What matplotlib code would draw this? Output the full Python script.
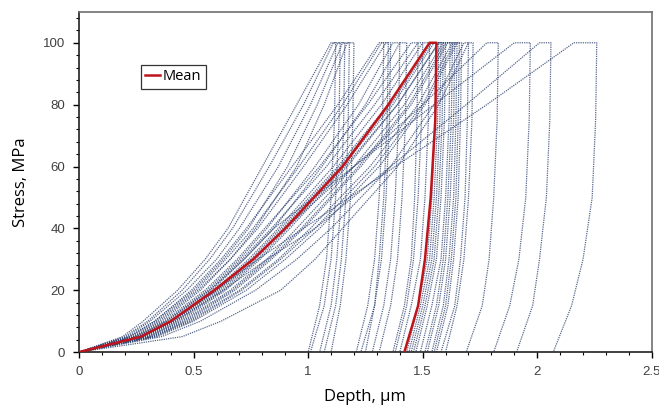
import matplotlib.pyplot as plt
import numpy as np
from matplotlib.ticker import MultipleLocator

# stress levels (MPa) at which depths were read
stress_load = [0, 5, 10, 20, 30, 40, 60, 80, 100]
stress_unload = [100, 75, 50, 30, 15, 0]

# loading depths (um) per test, one row per curve
load_depths = [
    [0, 0.19, 0.28, 0.43, 0.55, 0.65, 0.80, 0.95, 1.10],
    [0, 0.20, 0.30, 0.45, 0.57, 0.67, 0.83, 0.98, 1.11],
    [0, 0.21, 0.31, 0.47, 0.60, 0.70, 0.87, 1.01, 1.13],
    [0, 0.22, 0.33, 0.50, 0.63, 0.74, 0.91, 1.04, 1.15],
    [0, 0.24, 0.35, 0.52, 0.66, 0.77, 0.95, 1.07, 1.17],
    [0, 0.22, 0.33, 0.49, 0.62, 0.73, 0.93, 1.13, 1.31],
    [0, 0.23, 0.34, 0.51, 0.64, 0.76, 0.96, 1.15, 1.32],
    [0, 0.24, 0.36, 0.53, 0.66, 0.78, 0.98, 1.17, 1.34],
    [0, 0.26, 0.38, 0.56, 0.70, 0.82, 1.03, 1.22, 1.37],
    [0, 0.27, 0.40, 0.58, 0.72, 0.85, 1.06, 1.25, 1.40],
    [0, 0.25, 0.37, 0.55, 0.69, 0.81, 1.05, 1.26, 1.45],
    [0, 0.26, 0.39, 0.57, 0.71, 0.84, 1.08, 1.29, 1.48],
    [0, 0.27, 0.40, 0.59, 0.74, 0.87, 1.11, 1.32, 1.50],
    [0, 0.28, 0.41, 0.60, 0.75, 0.88, 1.13, 1.35, 1.53],
    [0, 0.28, 0.41, 0.61, 0.76, 0.89, 1.14, 1.36, 1.54],
    [0, 0.28, 0.42, 0.62, 0.77, 0.90, 1.15, 1.37, 1.55],
    [0, 0.29, 0.43, 0.63, 0.78, 0.91, 1.16, 1.39, 1.57],
    [0, 0.30, 0.44, 0.64, 0.79, 0.92, 1.17, 1.39, 1.57],
    [0, 0.30, 0.45, 0.66, 0.82, 0.95, 1.20, 1.42, 1.59],
    [0, 0.31, 0.46, 0.67, 0.83, 0.97, 1.22, 1.44, 1.60],
    [0, 0.32, 0.47, 0.68, 0.84, 0.98, 1.23, 1.45, 1.61],
    [0, 0.32, 0.48, 0.70, 0.87, 1.01, 1.27, 1.48, 1.63],
    [0, 0.33, 0.49, 0.71, 0.88, 1.03, 1.29, 1.50, 1.64],
    [0, 0.34, 0.50, 0.73, 0.90, 1.05, 1.31, 1.51, 1.65],
    [0, 0.36, 0.53, 0.77, 0.95, 1.10, 1.36, 1.55, 1.68],
    [0, 0.45, 0.62, 0.88, 1.03, 1.15, 1.39, 1.57, 1.70],
    [0, 0.27, 0.40, 0.60, 0.76, 0.90, 1.20, 1.50, 1.78],
    [0, 0.25, 0.38, 0.57, 0.72, 0.85, 1.20, 1.55, 1.90],
    [0, 0.28, 0.42, 0.63, 0.82, 1.03, 1.36, 1.69, 2.01],
    [0, 0.27, 0.40, 0.60, 0.78, 0.98, 1.38, 1.78, 2.16],
]

# depth at the end of the 100 MPa hold
hold_end = [1.12, 1.14, 1.16, 1.18, 1.20, 1.33, 1.35, 1.36, 1.40, 1.43,
            1.48, 1.50, 1.53, 1.56, 1.57, 1.58, 1.59, 1.60, 1.62, 1.63,
            1.64, 1.65, 1.66, 1.67, 1.70, 1.72, 1.83, 1.97, 2.06, 2.26]

# unloading depths at 75, 50, 30, 15, 0 MPa
unload_depths = [
    [1.115, 1.10, 1.08, 1.05, 1.00],
    [1.135, 1.12, 1.10, 1.07, 1.01],
    [1.155, 1.145, 1.125, 1.10, 1.05],
    [1.175, 1.165, 1.145, 1.12, 1.07],
    [1.195, 1.185, 1.165, 1.14, 1.10],
    [1.325, 1.31, 1.29, 1.26, 1.21],
    [1.345, 1.33, 1.31, 1.29, 1.25],
    [1.355, 1.34, 1.32, 1.29, 1.23],
    [1.395, 1.38, 1.36, 1.33, 1.28],
    [1.425, 1.41, 1.39, 1.36, 1.31],
    [1.475, 1.465, 1.45, 1.42, 1.37],
    [1.495, 1.48, 1.46, 1.43, 1.38],
    [1.525, 1.51, 1.49, 1.45, 1.40],
    [1.555, 1.54, 1.52, 1.48, 1.43],
    [1.565, 1.55, 1.53, 1.49, 1.44],
    [1.575, 1.56, 1.54, 1.50, 1.45],
    [1.585, 1.57, 1.55, 1.51, 1.46],
    [1.595, 1.58, 1.56, 1.52, 1.47],
    [1.615, 1.60, 1.58, 1.54, 1.49],
    [1.625, 1.61, 1.59, 1.56, 1.51],
    [1.635, 1.62, 1.60, 1.57, 1.52],
    [1.645, 1.635, 1.615, 1.59, 1.54],
    [1.655, 1.645, 1.625, 1.60, 1.55],
    [1.665, 1.655, 1.635, 1.61, 1.56],
    [1.695, 1.685, 1.665, 1.64, 1.58],
    [1.715, 1.70, 1.68, 1.65, 1.60],
    [1.825, 1.81, 1.79, 1.76, 1.69],
    [1.965, 1.95, 1.92, 1.88, 1.81],
    [2.055, 2.04, 2.01, 1.98, 1.91],
    [2.255, 2.24, 2.20, 2.15, 2.07],
]

# mean curve
mean_load = [0, 0.27, 0.40, 0.59, 0.76, 0.90, 1.15, 1.35, 1.53]
mean_hold = 1.56
mean_unload = [1.555, 1.535, 1.51, 1.48, 1.42]

fig = plt.figure(figsize=(6.59, 4.08), dpi=100)
ax = fig.add_axes([0.12, 0.137, 0.869, 0.834])

line_col = '#2e4270'
for ld, he, ud in zip(load_depths, hold_end, unload_depths):
    x = ld + [he] + ud
    y = stress_load + stress_unload
    ax.plot(x, y, color=line_col, lw=0.9, ls=(0, (1, 0.8)), alpha=0.8)

mx = mean_load + [mean_hold] + mean_unload
my = stress_load + stress_unload
ax.plot(mx, my, color='#c0141c', lw=1.8, label='Mean', zorder=5)

ax.set_xlim(0, 2.5)
ax.set_ylim(0, 110)
ax.set_xticks([0, 0.5, 1, 1.5, 2, 2.5])
ax.set_xticklabels(['0', '0.5', '1', '1.5', '2', '2.5'])
ax.set_yticks([0, 20, 40, 60, 80, 100])
ax.xaxis.set_minor_locator(MultipleLocator(0.1))
ax.yaxis.set_minor_locator(MultipleLocator(4))
ax.tick_params(which='major', length=4, width=1, labelsize=9.5, labelcolor='#404040',
               pad=6)
ax.tick_params(which='minor', length=2.5, width=0.8)
for lab in ax.get_xticklabels() + ax.get_yticklabels():
    lab.set_fontfamily('Liberation Sans')

for s in ['top', 'right']:
    ax.spines[s].set_color('#707070')
    ax.spines[s].set_linewidth(1.2)
for s in ['left', 'bottom']:
    ax.spines[s].set_color('#202020')
    ax.spines[s].set_linewidth(1.2)

ax.set_xlabel('Depth, μm', fontsize=12, family='Open Sans', labelpad=8)
ax.set_ylabel('Stress, MPa', fontsize=12, family='Open Sans', labelpad=10)

leg = ax.legend(loc='upper left', bbox_to_anchor=(0.095, 0.865), frameon=True,
                fancybox=False, handlelength=1.0, handletextpad=0.2,
                borderpad=0.3, prop={'family': 'Open Sans', 'size': 10.5})
leg.get_frame().set_edgecolor('black')
leg.get_frame().set_linewidth(0.9)

fig.savefig('out.png', dpi=100)
